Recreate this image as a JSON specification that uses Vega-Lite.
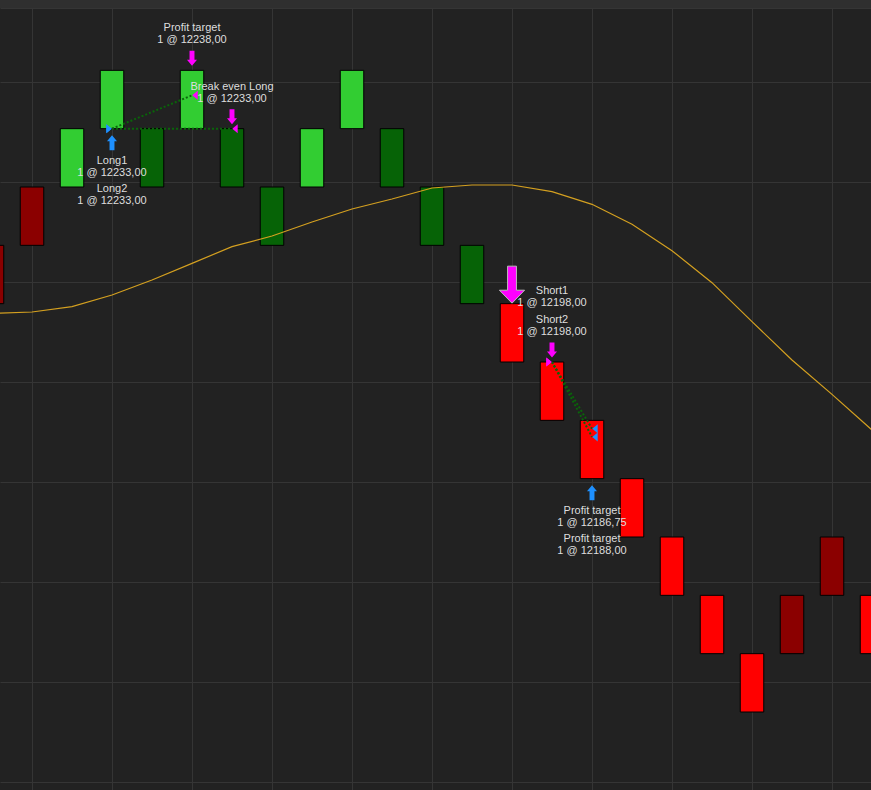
{
  "$schema": "https://vega.github.io/schema/vega-lite/v6.json",
  "width": 871,
  "height": 782,
  "autosize": {"type": "none"},
  "padding": {"top": 8, "left": 0, "right": 0, "bottom": 0},
  "background": "#2f2f2f",
  "config": {
    "view": {"fill": "#222222", "stroke": null},
    "axis": {"labels": false, "ticks": false, "domain": false, "title": null, "grid": true, "gridColor": "#353535", "gridWidth": 1, "gridOpacity": 1}
  },
  "datasets": {
    "bars": [
      {"i": -1, "high": 12215.5, "low": 12206.75, "tone": "downWeak"},
      {"i": 0, "high": 12224.25, "low": 12215.5, "tone": "downWeak"},
      {"i": 1, "high": 12233, "low": 12224.25, "tone": "upStrong"},
      {"i": 2, "high": 12241.75, "low": 12233, "tone": "upStrong"},
      {"i": 3, "high": 12233, "low": 12224.25, "tone": "upWeak"},
      {"i": 4, "high": 12241.75, "low": 12233, "tone": "upStrong"},
      {"i": 5, "high": 12233, "low": 12224.25, "tone": "upWeak"},
      {"i": 6, "high": 12224.25, "low": 12215.5, "tone": "upWeak"},
      {"i": 7, "high": 12233, "low": 12224.25, "tone": "upStrong"},
      {"i": 8, "high": 12241.75, "low": 12233, "tone": "upStrong"},
      {"i": 9, "high": 12233, "low": 12224.25, "tone": "upWeak"},
      {"i": 10, "high": 12224.25, "low": 12215.5, "tone": "upWeak"},
      {"i": 11, "high": 12215.5, "low": 12206.75, "tone": "upWeak"},
      {"i": 12, "high": 12206.75, "low": 12198, "tone": "downStrong"},
      {"i": 13, "high": 12198, "low": 12189.25, "tone": "downStrong"},
      {"i": 14, "high": 12189.25, "low": 12180.5, "tone": "downStrong"},
      {"i": 15, "high": 12180.5, "low": 12171.75, "tone": "downStrong"},
      {"i": 16, "high": 12171.75, "low": 12163, "tone": "downStrong"},
      {"i": 17, "high": 12163, "low": 12154.25, "tone": "downStrong"},
      {"i": 18, "high": 12154.25, "low": 12145.5, "tone": "downStrong"},
      {"i": 19, "high": 12163, "low": 12154.25, "tone": "downWeak"},
      {"i": 20, "high": 12171.75, "low": 12163, "tone": "downWeak"},
      {"i": 21, "high": 12163, "low": 12154.25, "tone": "downStrong"}
    ],
    "ma": [
      {"i": -1, "ma": 12205.3},
      {"i": 0, "ma": 12205.5},
      {"i": 1, "ma": 12206.3},
      {"i": 2, "ma": 12208.05},
      {"i": 3, "ma": 12210.3},
      {"i": 4, "ma": 12212.8},
      {"i": 5, "ma": 12215.3},
      {"i": 6, "ma": 12216.9},
      {"i": 7, "ma": 12219.0},
      {"i": 8, "ma": 12220.95},
      {"i": 9, "ma": 12222.45},
      {"i": 10, "ma": 12224.1},
      {"i": 11, "ma": 12224.55},
      {"i": 12, "ma": 12224.55},
      {"i": 13, "ma": 12223.55},
      {"i": 14, "ma": 12221.65},
      {"i": 15, "ma": 12218.65},
      {"i": 16, "ma": 12214.7},
      {"i": 17, "ma": 12209.9},
      {"i": 18, "ma": 12204.05},
      {"i": 19, "ma": 12198.3},
      {"i": 20, "ma": 12193.15},
      {"i": 21, "ma": 12187.8}
    ],
    "trades": [
      {"ei": 2, "ep": 12233, "xi": 4, "xp": 12238},
      {"ei": 2, "ep": 12233, "xi": 5, "xp": 12233},
      {"ei": 13, "ep": 12198, "xi": 14, "xp": 12188},
      {"ei": 13, "ep": 12198, "xi": 14, "xp": 12186.75}
    ],
    "executions": [
      {"i": 2, "price": 12233, "kind": "entry", "action": "Buy", "name": "Long1"},
      {"i": 2, "price": 12233, "kind": "entry", "action": "Buy", "name": "Long2"},
      {"i": 4, "price": 12238, "kind": "exit", "action": "Sell", "name": "Profit target"},
      {"i": 5, "price": 12233, "kind": "exit", "action": "Sell", "name": "Break even Long"},
      {"i": 13, "price": 12198, "kind": "entry", "action": "Sell", "name": "Short1"},
      {"i": 13, "price": 12198, "kind": "entry", "action": "Sell", "name": "Short2"},
      {"i": 14, "price": 12186.75, "kind": "exit", "action": "Buy", "name": "Profit target"},
      {"i": 14, "price": 12188, "kind": "exit", "action": "Buy", "name": "Profit target"}
    ],
    "arrows": [
      {"i": 2, "price": 12233, "dir": "up", "action": "Buy"},
      {"i": 4, "price": 12241.75, "dir": "down", "action": "Sell"},
      {"i": 5, "price": 12233, "dir": "down", "action": "Sell"},
      {"i": 13, "price": 12198, "dir": "down", "action": "Sell"},
      {"i": 14, "price": 12180.5, "dir": "up", "action": "Buy"}
    ],
    "signals": [
      {"i": 12, "price": 12206.75, "dir": "down", "action": "Sell"}
    ],
    "labels": [
      {"i": 4, "price": 12241.75, "side": "above", "order": 1, "text": "Profit target\n1 @ 12238,00"},
      {"i": 5, "price": 12233, "side": "above", "order": 1, "text": "Break even Long\n1 @ 12233,00"},
      {"i": 13, "price": 12198, "side": "above", "order": 1, "text": "Short2\n1 @ 12198,00"},
      {"i": 13, "price": 12198, "side": "above", "order": 2, "text": "Short1\n1 @ 12198,00"},
      {"i": 2, "price": 12233, "side": "below", "order": 1, "text": "Long1\n1 @ 12233,00"},
      {"i": 2, "price": 12233, "side": "below", "order": 2, "text": "Long2\n1 @ 12233,00"},
      {"i": 14, "price": 12180.5, "side": "below", "order": 1, "text": "Profit target\n1 @ 12186,75"},
      {"i": 14, "price": 12180.5, "side": "below", "order": 2, "text": "Profit target\n1 @ 12188,00"}
    ]
  },
  "resolve": {"scale": {"fill": "independent"}},
  "layer": [
    {
      "data": {"name": "bars"},
      "mark": {"type": "bar", "width": 23.5, "stroke": "#000000", "strokeWidth": 1, "clip": true, "opacity": 1},
      "encoding": {
        "x": {"field": "i", "type": "quantitative", "scale": {"domain": [-0.8, 20.975], "nice": false, "zero": false, "padding": 0},
          "axis": {"orient": "bottom", "values": [0, 2, 4, 6, 8, 10, 12, 14, 16, 18, 20], "grid": true, "labels": false, "ticks": false, "domain": false, "title": null}},
        "y": {"field": "high", "type": "quantitative", "scale": {"domain": [12133.8, 12251.1], "nice": false, "zero": false, "padding": 0},
          "axis": {"orient": "right", "values": [12135, 12150, 12165, 12180, 12195, 12210, 12225, 12240, 12251.1], "grid": true, "labels": false, "ticks": false, "domain": false, "title": null}},
        "y2": {"field": "low"},
        "fill": {"field": "tone", "type": "nominal", "legend": null,
          "scale": {"domain": ["upStrong", "upWeak", "downStrong", "downWeak"], "range": ["#32CD32", "#066306", "#FF0000", "#8B0000"]}}
      }
    },
    {
      "data": {"name": "ma"},
      "mark": {"type": "line", "stroke": "#D4A020", "strokeWidth": 1.2, "clip": true},
      "encoding": {
        "x": {"field": "i", "type": "quantitative", "scale": {"domain": [-0.8, 20.975], "nice": false, "zero": false, "padding": 0}},
        "y": {"field": "ma", "type": "quantitative", "scale": {"domain": [12133.8, 12251.1], "nice": false, "zero": false, "padding": 0}}
      }
    },
    {
      "data": {"name": "trades"},
      "mark": {"type": "rule", "stroke": "#0A640A", "strokeWidth": 2, "strokeDash": [2, 2], "clip": true},
      "encoding": {
        "x": {"field": "ei", "type": "quantitative", "scale": {"domain": [-0.8, 20.975], "nice": false, "zero": false, "padding": 0}},
        "y": {"field": "ep", "type": "quantitative", "scale": {"domain": [12133.8, 12251.1], "nice": false, "zero": false, "padding": 0}},
        "x2": {"field": "xi"},
        "y2": {"field": "xp"}
      }
    },
    {
      "data": {"name": "executions"},
      "transform": [{"filter": "datum.kind === 'entry'"}],
      "mark": {"type": "point", "filled": true, "opacity": 1, "strokeWidth": 0, "size": 81, "xOffset": -3, "shape": "M-0.6,-1L0.6,0L-0.6,1Z", "clip": true},
      "encoding": {
        "x": {"field": "i", "type": "quantitative", "scale": {"domain": [-0.8, 20.975], "nice": false, "zero": false, "padding": 0}},
        "y": {"field": "price", "type": "quantitative", "scale": {"domain": [12133.8, 12251.1], "nice": false, "zero": false, "padding": 0}},
        "fill": {"field": "action", "type": "nominal", "legend": null, "scale": {"domain": ["Buy", "Sell"], "range": ["#1E90FF", "#FF00FF"]}}
      }
    },
    {
      "data": {"name": "executions"},
      "transform": [{"filter": "datum.kind === 'exit'"}],
      "mark": {"type": "point", "filled": true, "opacity": 1, "strokeWidth": 0, "size": 81, "xOffset": 3, "shape": "M0.6,-1L-0.6,0L0.6,1Z", "clip": true},
      "encoding": {
        "x": {"field": "i", "type": "quantitative", "scale": {"domain": [-0.8, 20.975], "nice": false, "zero": false, "padding": 0}},
        "y": {"field": "price", "type": "quantitative", "scale": {"domain": [12133.8, 12251.1], "nice": false, "zero": false, "padding": 0}},
        "fill": {"field": "action", "type": "nominal", "legend": null, "scale": {"domain": ["Buy", "Sell"], "range": ["#1E90FF", "#FF00FF"]}}
      }
    },
    {
      "data": {"name": "arrows"},
      "transform": [{"filter": "datum.dir === 'down'"}],
      "mark": {"type": "point", "filled": true, "opacity": 1, "strokeWidth": 0, "size": 225, "yOffset": -12, "shape": "M-0.33,-1L0.33,-1L0.33,0.2L0.67,0.2L0,1L-0.67,0.2L-0.33,0.2Z", "clip": true},
      "encoding": {
        "x": {"field": "i", "type": "quantitative", "scale": {"domain": [-0.8, 20.975], "nice": false, "zero": false, "padding": 0}},
        "y": {"field": "price", "type": "quantitative", "scale": {"domain": [12133.8, 12251.1], "nice": false, "zero": false, "padding": 0}},
        "fill": {"field": "action", "type": "nominal", "legend": null, "scale": {"domain": ["Buy", "Sell"], "range": ["#1E90FF", "#FF00FF"]}}
      }
    },
    {
      "data": {"name": "arrows"},
      "transform": [{"filter": "datum.dir === 'up'"}],
      "mark": {"type": "point", "filled": true, "opacity": 1, "strokeWidth": 0, "size": 225, "yOffset": 14, "shape": "M-0.33,1L0.33,1L0.33,-0.2L0.67,-0.2L0,-1L-0.67,-0.2L-0.33,-0.2Z", "clip": true},
      "encoding": {
        "x": {"field": "i", "type": "quantitative", "scale": {"domain": [-0.8, 20.975], "nice": false, "zero": false, "padding": 0}},
        "y": {"field": "price", "type": "quantitative", "scale": {"domain": [12133.8, 12251.1], "nice": false, "zero": false, "padding": 0}},
        "fill": {"field": "action", "type": "nominal", "legend": null, "scale": {"domain": ["Buy", "Sell"], "range": ["#1E90FF", "#FF00FF"]}}
      }
    },
    {
      "data": {"name": "signals"},
      "mark": {"type": "point", "filled": true, "opacity": 1, "stroke": "#BBBBBB", "strokeWidth": 1, "size": 1369, "yOffset": -19, "shape": "M-0.24,-1L0.24,-1L0.24,0.3L0.68,0.3L0,1L-0.68,0.3L-0.24,0.3Z", "clip": true},
      "encoding": {
        "x": {"field": "i", "type": "quantitative", "scale": {"domain": [-0.8, 20.975], "nice": false, "zero": false, "padding": 0}},
        "y": {"field": "price", "type": "quantitative", "scale": {"domain": [12133.8, 12251.1], "nice": false, "zero": false, "padding": 0}},
        "fill": {"field": "action", "type": "nominal", "legend": null, "scale": {"domain": ["Buy", "Sell"], "range": ["#1E90FF", "#FF00FF"]}}
      }
    },
    {
      "data": {"name": "labels"},
      "transform": [{"filter": "datum.side === 'above' && datum.order === 1"}],
      "mark": {"type": "text", "dy": -42, "lineBreak": "\n", "lineHeight": 12, "font": "Liberation Sans", "fontSize": 11, "fill": "#DEDEDE", "align": "center", "baseline": "middle"},
      "encoding": {
        "x": {"field": "i", "type": "quantitative", "scale": {"domain": [-0.8, 20.975], "nice": false, "zero": false, "padding": 0}},
        "y": {"field": "price", "type": "quantitative", "scale": {"domain": [12133.8, 12251.1], "nice": false, "zero": false, "padding": 0}},
        "text": {"field": "text", "type": "nominal"}
      }
    },
    {
      "data": {"name": "labels"},
      "transform": [{"filter": "datum.side === 'above' && datum.order === 2"}],
      "mark": {"type": "text", "dy": -71, "lineBreak": "\n", "lineHeight": 12, "font": "Liberation Sans", "fontSize": 11, "fill": "#DEDEDE", "align": "center", "baseline": "middle"},
      "encoding": {
        "x": {"field": "i", "type": "quantitative", "scale": {"domain": [-0.8, 20.975], "nice": false, "zero": false, "padding": 0}},
        "y": {"field": "price", "type": "quantitative", "scale": {"domain": [12133.8, 12251.1], "nice": false, "zero": false, "padding": 0}},
        "text": {"field": "text", "type": "nominal"}
      }
    },
    {
      "data": {"name": "labels"},
      "transform": [{"filter": "datum.side === 'below' && datum.order === 1"}],
      "mark": {"type": "text", "dy": 32, "lineBreak": "\n", "lineHeight": 12, "font": "Liberation Sans", "fontSize": 11, "fill": "#DEDEDE", "align": "center", "baseline": "middle"},
      "encoding": {
        "x": {"field": "i", "type": "quantitative", "scale": {"domain": [-0.8, 20.975], "nice": false, "zero": false, "padding": 0}},
        "y": {"field": "price", "type": "quantitative", "scale": {"domain": [12133.8, 12251.1], "nice": false, "zero": false, "padding": 0}},
        "text": {"field": "text", "type": "nominal"}
      }
    },
    {
      "data": {"name": "labels"},
      "transform": [{"filter": "datum.side === 'below' && datum.order === 2"}],
      "mark": {"type": "text", "dy": 60, "lineBreak": "\n", "lineHeight": 12, "font": "Liberation Sans", "fontSize": 11, "fill": "#DEDEDE", "align": "center", "baseline": "middle"},
      "encoding": {
        "x": {"field": "i", "type": "quantitative", "scale": {"domain": [-0.8, 20.975], "nice": false, "zero": false, "padding": 0}},
        "y": {"field": "price", "type": "quantitative", "scale": {"domain": [12133.8, 12251.1], "nice": false, "zero": false, "padding": 0}},
        "text": {"field": "text", "type": "nominal"}
      }
    }
  ]
}
